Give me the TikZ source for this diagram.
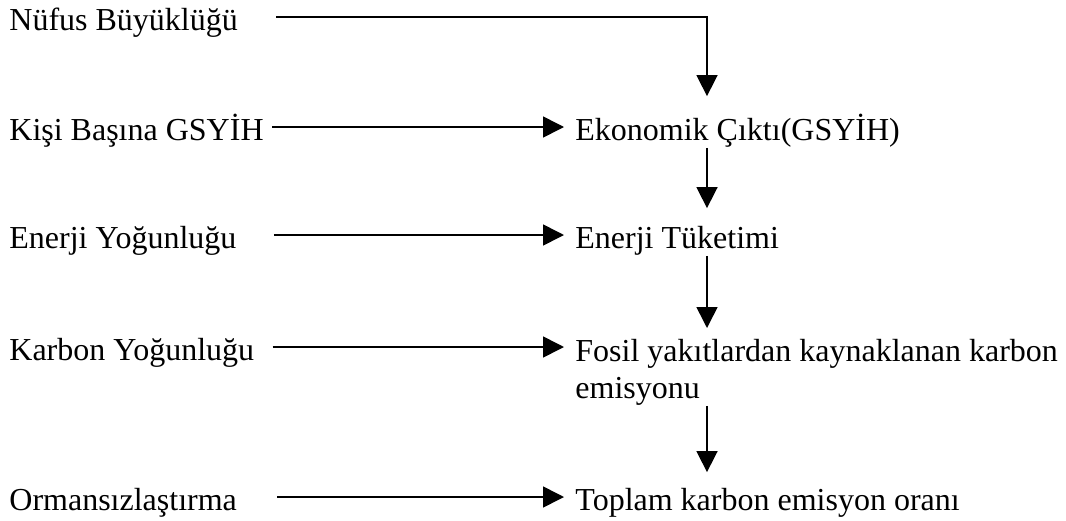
\documentclass[tikz,border=0pt]{standalone}
\usepackage{fontspec}
\setmainfont{Liberation Serif}
\usetikzlibrary{arrows.meta}
\begin{document}
\begin{tikzpicture}[x=0.5pt, y=-0.5pt,
    every node/.style={font=\fontsize{16pt}{18.5pt}\selectfont},
    lbl/.style={anchor=west, inner sep=0pt, text height=17pt, text depth=3.5pt},
    flow/.style={-{Triangle[length=10.5pt, width=10.5pt]}, line width=0.8pt}]

\useasboundingbox (0,0) rectangle (1066,520);

% Factors (left column)
\node[lbl] (nufus) at (9,17) {Nüfus Büyüklüğü};
\node[lbl] (kisi) at (9,127) {Kişi Başına GSYİH};
\node[lbl] (enerji) at (9,235) {Enerji Yoğunluğu};
\node[lbl] (karbon) at (9,347) {Karbon Yoğunluğu};
\node[lbl] (orman) at (9,497) {Ormansızlaştırma};

% Results (right column)
\node[lbl] (ekon) at (575,127) {Ekonomik Çıktı(GSYİH)};
\node[lbl] (tuketim) at (575,235) {Enerji Tüketimi};
\node[anchor=north west, inner sep=0pt, align=left] (fosil) at (575,339)
    {Fosil yakıtlardan kaynaklanan karbon\\emisyonu};
\node[lbl] (toplam) at (575,497) {Toplam karbon emisyon oranı};

\coordinate (col) at (707,0);

% Population feeds into output
\draw[flow, shorten <=19pt, shorten >=5pt] (nufus.east) -- (nufus.east -| col) -- (col |- ekon.north);

% Horizontal arrows
\foreach \from/\to/\gap in {kisi/ekon/4pt, enerji/tuketim/18.5pt, karbon/fosil/9pt, orman/toplam/20pt} {
    \draw[flow, shorten <=\gap, shorten >=5.5pt] (\from.east) -- (\from.east -| \to.west);
}

% Vertical chain
\foreach \from/\to/\gap in {ekon/tuketim/3pt, tuketim/fosil/5.5pt, fosil/toplam/2pt} {
    \draw[flow, shorten >=\gap] (col |- \from.south) -- (col |- \to.north);
}

\end{tikzpicture}
\end{document}
